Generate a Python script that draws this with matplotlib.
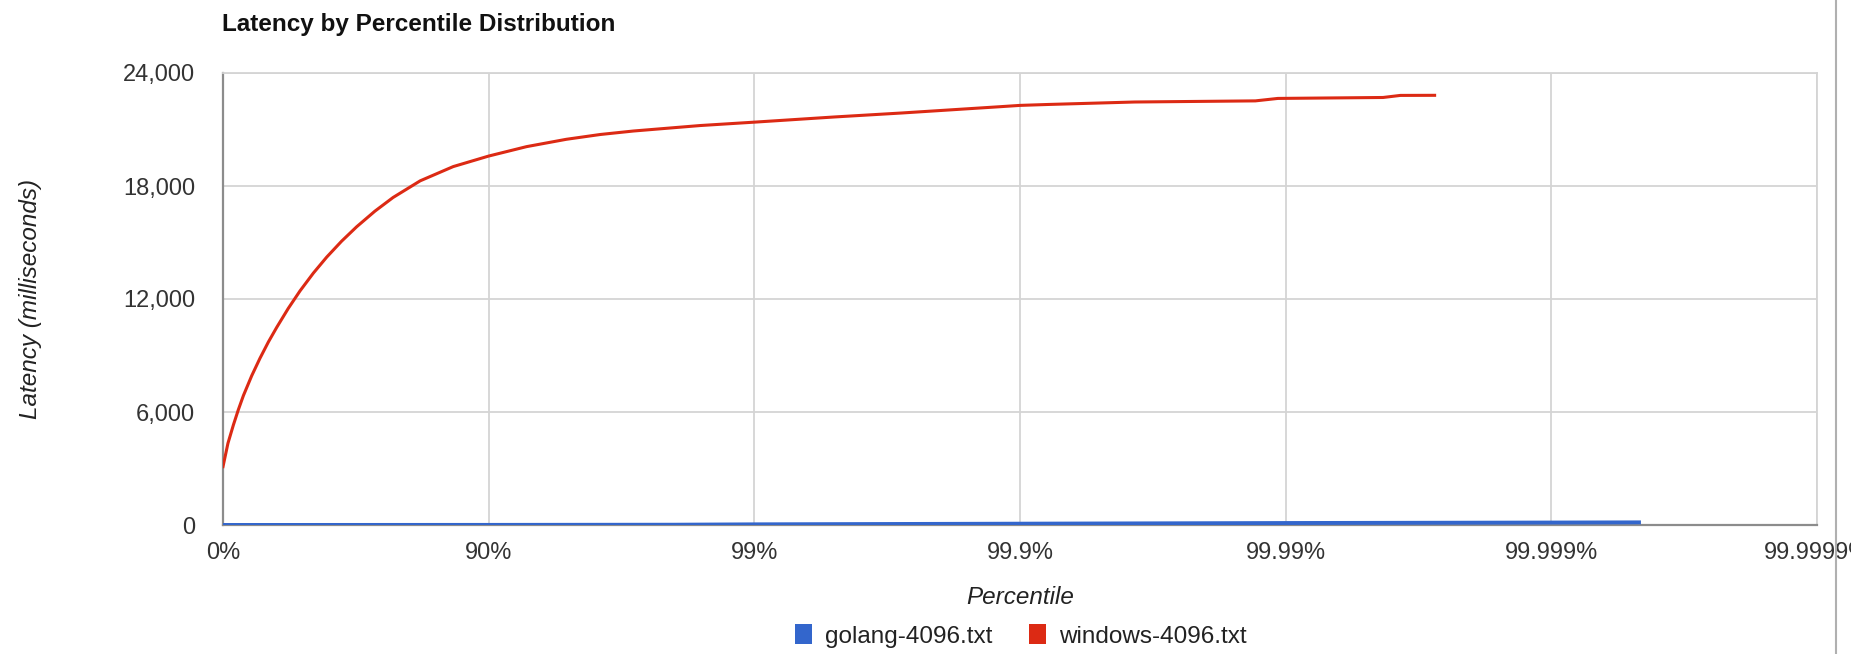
import numpy as np
import matplotlib
matplotlib.use("Agg")
from matplotlib import pyplot as plt
from matplotlib.lines import Line2D
from matplotlib.patches import Patch
from matplotlib.ticker import FuncFormatter, FixedLocator

plt.rcParams['font.family'] = ['Liberation Sans', 'DejaVu Sans']

# percentile (%) -> latency (ms)
windows_pct = [0, 4.2, 8.6, 12.4, 16.2, 22.0, 27.4, 32.5, 37.2, 43.2, 48.7,
               54.3, 59.3, 64.2, 68.6, 73.2, 77.1, 81.9, 86.4, 90.0, 92.8,
               94.9, 96.2, 97.15, 98.4, 99.0, 99.5, 99.72, 99.881, 99.9,
               99.922, 99.963, 99.987, 99.9893, 99.9957, 99.9963, 99.99725]
windows_ms = [3100, 4340, 5310, 6110, 6870, 7920, 8850, 9715, 10490, 11500,
              12430, 13375, 14225, 15065, 15835, 16665, 17390, 18275, 19030,
              19590, 20090, 20480, 20735, 20920, 21210, 21390, 21665, 21875,
              22210, 22280, 22330, 22460, 22520, 22650, 22700, 22810, 22815]

golang_pct = [0, 50, 90, 98, 99, 99.9, 99.99, 99.999, 99.99954]
golang_ms = [2, 3, 6, 15, 35, 70, 105, 130, 140]

pct_ticks = [0, 90, 99, 99.9, 99.99, 99.999, 99.9999]
pct_labels = ['0%', '90%', '99%', '99.9%', '99.99%', '99.999%', '99.9999%']
ms_ticks = [0, 6000, 12000, 18000, 24000]

GOLANG_BLUE = '#3366cc'
WINDOWS_RED = '#dc2a14'


# "nines" scale: each decade of 1 - p takes the same width
def nines(p):
    p = np.asarray(p, dtype=float)
    with np.errstate(divide='ignore', invalid='ignore'):
        return -np.log10(np.clip(1 - p / 100.0, 1e-12, None))


def nines_inv(x):
    return 100.0 * (1 - 10.0 ** (-np.asarray(x, dtype=float)))


fig = plt.figure(figsize=(18.51, 6.54), dpi=100)
ax = fig.add_axes([223 / 1851, 129 / 654, (1817 - 223) / 1851, 452 / 654])

ax.set_xscale('function', functions=(nines, nines_inv))
ax.plot(golang_pct, golang_ms, color=GOLANG_BLUE, lw=2.8, solid_capstyle='butt', zorder=3)
ax.plot(windows_pct, windows_ms, color=WINDOWS_RED, lw=2.2, zorder=3,
        solid_joinstyle='round')

ax.set_xlim(0, 99.9999)
ax.set_ylim(0, 24000)
ax.xaxis.set_major_locator(FixedLocator(pct_ticks))
ax.xaxis.set_minor_locator(FixedLocator([]))
ax.set_xticklabels(pct_labels)
ax.set_yticks(ms_ticks)
ax.yaxis.set_major_formatter(FuncFormatter(lambda v, _: f"{int(v):,}"))

ax.grid(True, color='#d4d4d4', lw=1.3)
ax.set_axisbelow(True)
ax.tick_params(axis='both', length=0, labelsize=17, labelcolor='#333333')
ax.tick_params(axis='y', pad=20)
ax.tick_params(axis='x', pad=12)
for side in ('top', 'right'):
    ax.spines[side].set_color('#d4d4d4')
    ax.spines[side].set_linewidth(1.3)
for side in ('left', 'bottom'):
    ax.spines[side].set_color('#8c8c8c')
    ax.spines[side].set_linewidth(1.6)

ax.set_xlabel('Percentile', fontsize=17.5, style='italic', color='#222222', va='center')
ax.xaxis.set_label_coords(1020 / 1851, 56 / 654, transform=fig.transFigure)
ax.set_ylabel('Latency (milliseconds)', fontsize=17.5, style='italic', color='#222222', va='center')
ax.yaxis.set_label_coords(31 / 1851, 355 / 654, transform=fig.transFigure)

fig.text(222 / 1851, 630 / 654, 'Latency by Percentile Distribution',
         fontsize=17.5, fontweight='bold', color='#111111', ha='left', va='center')

handles = [Patch(facecolor=GOLANG_BLUE, edgecolor='none'),
           Patch(facecolor=WINDOWS_RED, edgecolor='none')]
fig.legend(handles, ['golang-4096.txt', 'windows-4096.txt'], loc='center',
           bbox_to_anchor=(1021 / 1851, 18 / 654), ncol=2, frameon=False,
           fontsize=17.5, handlelength=0.7, handleheight=0.85,
           handletextpad=0.55, columnspacing=1.5, borderpad=0, labelcolor='#222222')

# border on the right edge
fig.add_artist(Line2D([1836 / 1851] * 2, [0, 1], transform=fig.transFigure,
                      color='#b0b0b0', lw=1.5))

fig.savefig('out.png', dpi=100, facecolor='white')
